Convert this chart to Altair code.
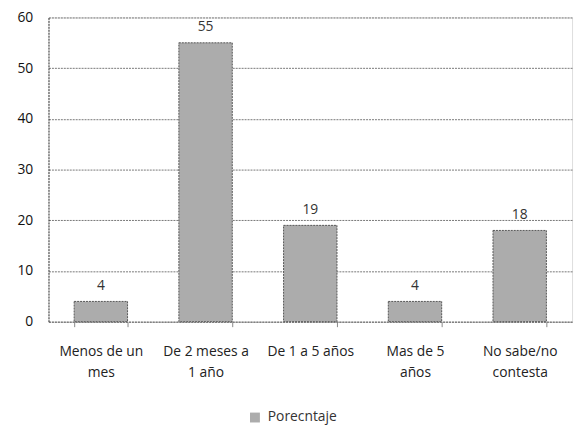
import altair as alt
import pandas as pd

categories = ["Menos de un\nmes", "De 2 meses a\n1 año", "De 1 a 5 años", "Mas de 5\naños", "No sabe/no\ncontesta"]
values = [4, 55, 19, 4, 18]
series = "Porecntaje"

df = pd.DataFrame({"cat": categories, "val": values, "serie": [series] * len(values)})

FONT = "Open Sans"

x = alt.X("cat:N", sort=categories, title=None,
          scale=alt.Scale(paddingInner=0.49, paddingOuter=0.245),
          axis=alt.Axis(labelAngle=0, labelExpr="split(datum.label, '\\n')",
                        labelFontSize=14, labelColor="#222", labelFont=FONT,
                        labelPadding=18, labelLineHeight=21,
                        tickBand="extent", tickSize=5, tickColor="#888",
                        domainColor="#777", domainDash=[2, 1], grid=False))
y = alt.Y("val:Q", title=None,
          scale=alt.Scale(domain=[0, 60]),
          axis=alt.Axis(values=[0, 10, 20, 30, 40, 50, 60], ticks=False,
                        labelFontSize=14, labelColor="#111", labelFont=FONT,
                        labelPadding=16, domainColor="#333", domainDash=[2, 1],
                        gridColor="#777", gridDash=[2, 1], gridWidth=1))

bars = alt.Chart(df).mark_bar(stroke="#555", strokeWidth=1, strokeDash=[2, 1]).encode(
    x=x, y=y,
    color=alt.Color("serie:N", scale=alt.Scale(range=["#acacac"]),
                    legend=alt.Legend(title=None, orient="none", legendX=202, legendY=398,
                                      symbolType="square", symbolSize=100,
                                      symbolStrokeWidth=0, symbolOffset=0, labelOffset=6,
                                      labelFontSize=14, labelColor="#333", labelFont=FONT))
)

text = alt.Chart(df).mark_text(dy=-16, fontSize=14, color="#333", font=FONT).encode(
    x=alt.X("cat:N", sort=categories), y="val:Q", text="val:Q")

chart = (bars + text).properties(
    width=530, height=308,
    padding={"left": 41, "top": 7, "right": 4, "bottom": 104},
    autosize=alt.AutoSizeParams(type="none"),
).configure_view(stroke=None).configure(background="white")

chart.save("out.html", embed_options={"renderer": "svg", "actions": False})
